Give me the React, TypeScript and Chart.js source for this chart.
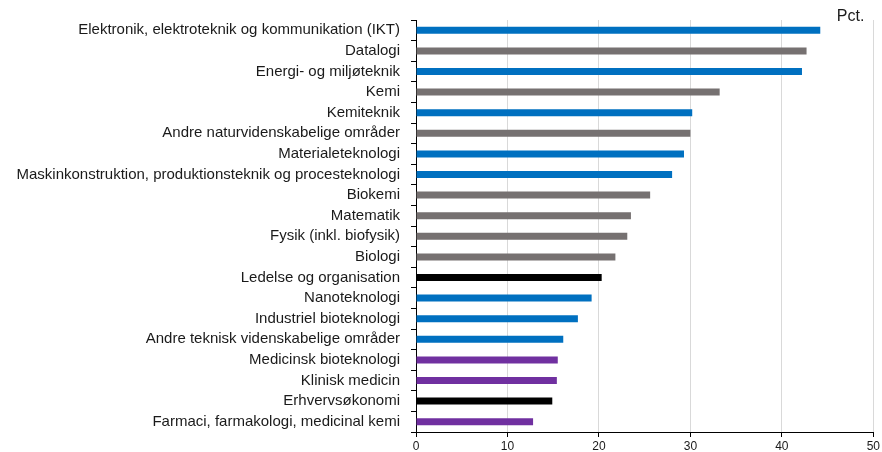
import React, { useEffect, useRef } from "react";
import { Chart, registerables } from "chart.js";

Chart.register(...registerables);

const categories = [
  "Elektronik, elektroteknik og kommunikation (IKT)",
  "Datalogi",
  "Energi- og miljøteknik",
  "Kemi",
  "Kemiteknik",
  "Andre naturvidenskabelige områder",
  "Materialeteknologi",
  "Maskinkonstruktion, produktionsteknik og procesteknologi",
  "Biokemi",
  "Matematik",
  "Fysik (inkl. biofysik)",
  "Biologi",
  "Ledelse og organisation",
  "Nanoteknologi",
  "Industriel bioteknologi",
  "Andre teknisk videnskabelige områder",
  "Medicinsk bioteknologi",
  "Klinisk medicin",
  "Erhvervsøkonomi",
  "Farmaci, farmakologi, medicinal kemi",
];

const values = [
  44.2, 42.7, 42.2, 33.2, 30.2, 30.0, 29.3, 28.0, 25.6, 23.5,
  23.1, 21.8, 20.3, 19.2, 17.7, 16.1, 15.5, 15.4, 14.9, 12.8,
];

// group per category: t = teknik (blue), n = natur (gray), s = samfund (black), m = medicin (purple)
const groups = [
  "t", "n", "t", "n", "t", "n", "t", "t", "n", "n",
  "n", "n", "s", "t", "t", "t", "m", "m", "s", "m",
];

const groupColors: Record<string, string> = {
  t: "#0070C0",
  n: "#767171",
  s: "#000000",
  m: "#7030A0",
};

const xTicks = [0, 10, 20, 30, 40, 50];
const unitLabel = "Pct.";

export default function App() {
  const ref = useRef<HTMLCanvasElement | null>(null);

  useEffect(() => {
    if (!ref.current) return;
    const unitPlugin = {
      id: "unitLabel",
      afterDraw(chart: any) {
        const ctx = chart.ctx;
        const area = chart.chartArea;
        ctx.save();
        ctx.font = '16px "Liberation Sans", Arial, sans-serif';
        ctx.fillStyle = "#1a1a1a";
        ctx.textAlign = "right";
        ctx.textBaseline = "alphabetic";
        ctx.fillText(unitLabel, area.right - 9, area.top + 1);
        ctx.restore();
      },
    };
    const chart = new Chart(ref.current, {
      type: "bar",
      data: {
        labels: categories,
        datasets: [
          {
            data: values,
            backgroundColor: groups.map((g) => groupColors[g]),
            borderWidth: 0,
            barPercentage: 0.34,
            categoryPercentage: 1,
          },
        ],
      },
      options: {
        indexAxis: "y",
        animation: false,
        responsive: false,
        devicePixelRatio: 1,
        layout: { padding: { top: 20, right: 7, left: 0, bottom: 0 } },
        plugins: {
          legend: { display: false },
          tooltip: { enabled: false },
        },
        scales: {
          x: {
            min: 0,
            max: 50,
            afterBuildTicks: (scale: any) => {
              scale.ticks = xTicks.map((v) => ({ value: v }));
            },
            afterFit: (scale: any) => {
              scale.height = 19;
            },
            grid: {
              color: "#d9d9d9",
              lineWidth: 1,
              tickColor: "#000",
              tickLength: 5,
            },
            border: { display: true, color: "#000", width: 1 },
            ticks: {
              color: "#1a1a1a",
              font: { family: '"Liberation Sans", Arial, sans-serif', size: 12 },
              padding: 2,
              maxRotation: 0,
            },
          },
          y: {
            afterFit: (scale: any) => {
              scale.width = 416;
            },
            grid: {
              display: true,
              drawOnChartArea: false,
              drawTicks: true,
              tickLength: 5,
              color: "#000",
              tickColor: "#000",
              offset: true,
            },
            border: { display: true, color: "#000", width: 1 },
            ticks: {
              color: "#1a1a1a",
              font: { family: '"Liberation Sans", Arial, sans-serif', size: 15 },
              padding: 11,
              autoSkip: false,
            },
          },
        },
      },
      plugins: [unitPlugin],
    });
    return () => chart.destroy();
  }, []);

  return (
    <div style={{ position: "fixed", left: 0, top: 0, width: 882, height: 452, background: "#fff" }}>
      <canvas ref={ref} width={882} height={452} style={{ width: 882, height: 452 }} />
    </div>
  );
}
